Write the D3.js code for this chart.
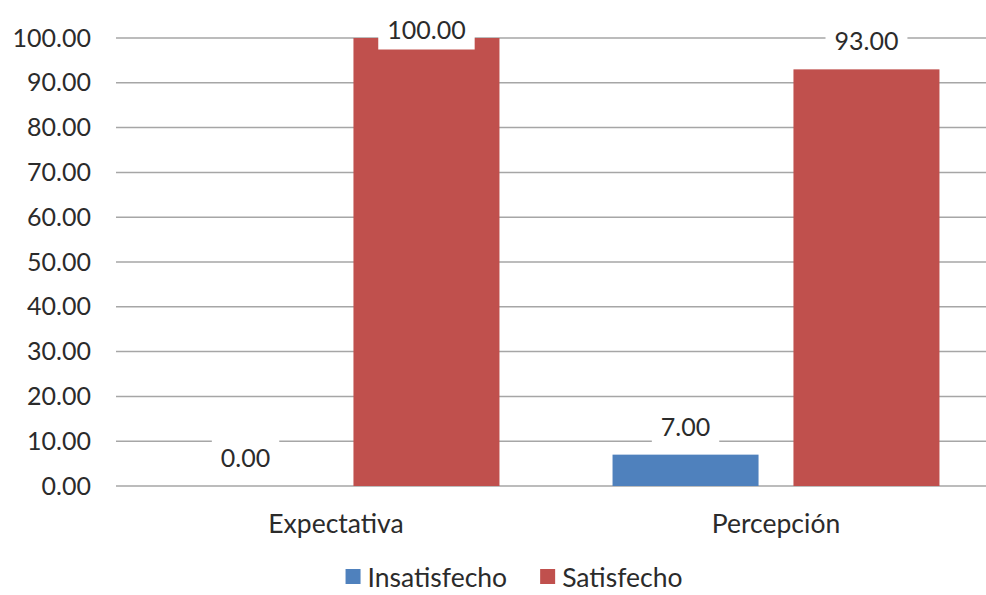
<!DOCTYPE html>
<html>
<head>
<meta charset="utf-8">
<script src="https://cdn.jsdelivr.net/npm/d3@7"></script>
<style>
  html, body { margin: 0; padding: 0; background: #fff; }
  svg { display: block; }
</style>
</head>
<body>
<div id="chart"></div>
<script>
// Grouped bar chart: Insatisfecho / Satisfecho for Expectativa vs Percepción

const categories = ["Expectativa", "Percepción"];
const seriesNames = ["Insatisfecho", "Satisfecho"];
const insatisfecho = [0, 7];
const satisfecho = [100, 93];
const yTicks = [0, 10, 20, 30, 40, 50, 60, 70, 80, 90, 100];

const COLORS = { Insatisfecho: "#4f81bd", Satisfecho: "#c0504d" };
const FONT = "Lato, 'Open Sans', sans-serif";
const TEXT = "#2b2b2b";
const NUM_SIZE = "25px";
const WORD_SIZE = "26.5px";

const W = 986, H = 595;
const m = { top: 38, right: -10, bottom: 109, left: 116 };
const iw = W - m.left - m.right;
const ih = H - m.top - m.bottom;

const rows = categories.map((c, i) => ({
  category: c,
  values: [
    { series: seriesNames[0], value: insatisfecho[i] },
    { series: seriesNames[1], value: satisfecho[i] },
  ],
}));

const svg = d3.select("#chart")
  .append("svg")
    .attr("width", W)
    .attr("height", H);

const g = svg.append("g").attr("transform", `translate(${m.left},${m.top})`);

const x0 = d3.scaleBand()
  .domain(categories)
  .range([0, iw])
  .paddingInner(0.257)
  .paddingOuter(0.1285);

const x1 = d3.scaleBand()
  .domain(seriesNames)
  .range([0, x0.bandwidth()])
  .paddingInner(0.193);

const y = d3.scaleLinear().domain([0, 100]).range([ih, 0]);

// Gridlines
g.append("g")
  .selectAll("line")
  .data(yTicks)
  .join("line")
    .attr("x1", 0).attr("x2", iw)
    .attr("y1", d => y(d)).attr("y2", d => y(d))
    .attr("stroke", "#a6a6a6")
    .attr("stroke-width", 1.5);

// Y axis labels
const yAxisG = g.append("g")
  .attr("transform", "translate(-25,0)")
  .call(d3.axisLeft(y).tickValues(yTicks).tickFormat(d3.format(".2f")).tickSize(0).tickPadding(0));
yAxisG.select(".domain").remove();
yAxisG.selectAll("text")
  .attr("fill", TEXT)
  .attr("font-size", NUM_SIZE)
  .attr("font-family", FONT);

// Bars
const groups = g.selectAll(".grp")
  .data(rows)
  .join("g")
    .attr("class", "grp")
    .attr("transform", d => `translate(${x0(d.category)},0)`);

groups.selectAll("rect")
  .data(d => d.values)
  .join("rect")
    .attr("x", d => x1(d.series))
    .attr("y", d => y(d.value))
    .attr("width", x1.bandwidth())
    .attr("height", d => ih - y(d.value))
    .attr("fill", d => COLORS[d.series]);

// Data labels with white boxes
groups.each(function(d) {
  const grp = d3.select(this);
  d.values.forEach(v => {
    const cx = x1(v.series) + x1.bandwidth() / 2;
    const cy = Math.max(y(v.value) - 29, -9.5);
    const lg = grp.append("g").attr("transform", `translate(${cx},${cy})`);
    const box = lg.append("rect").attr("fill", "#fff");
    const t = lg.append("text")
      .attr("text-anchor", "middle")
      .attr("dominant-baseline", "central")
      .attr("fill", TEXT)
      .attr("font-size", NUM_SIZE)
      .attr("font-family", FONT)
      .text(d3.format(".2f")(v.value));
    const tw = t.node().getComputedTextLength();
    box.attr("x", -tw / 2 - 9).attr("y", -21)
      .attr("width", tw + 18).attr("height", 42);
  });
});

// X axis category labels
g.append("g")
  .selectAll("text")
  .data(categories)
  .join("text")
    .attr("x", d => x0(d) + x0.bandwidth() / 2)
    .attr("y", ih + 37)
    .attr("text-anchor", "middle")
    .attr("dominant-baseline", "central")
    .attr("fill", TEXT)
    .attr("font-size", WORD_SIZE)
    .attr("font-family", FONT)
    .text(d => d);

// Legend
const legendG = svg.append("g").attr("transform", `translate(0, ${H - 11})`);
let lx = 0;
seriesNames.forEach((s, i) => {
  const item = legendG.append("g").attr("transform", `translate(${lx},0)`);
  item.append("rect")
    .attr("x", 0).attr("y", -7 - 8)
    .attr("width", 15).attr("height", 15)
    .attr("fill", COLORS[s]);
  const t = item.append("text")
    .attr("x", 22)
    .attr("y", -7)
    .attr("dominant-baseline", "central")
    .attr("fill", TEXT)
    .attr("font-size", WORD_SIZE)
    .attr("font-family", FONT)
    .text(s);
  lx += 22 + t.node().getComputedTextLength() + (i < seriesNames.length - 1 ? 33 : 0);
});
legendG.attr("transform", `translate(${514 - lx / 2}, ${H - 11})`);
</script>
</body>
</html>
